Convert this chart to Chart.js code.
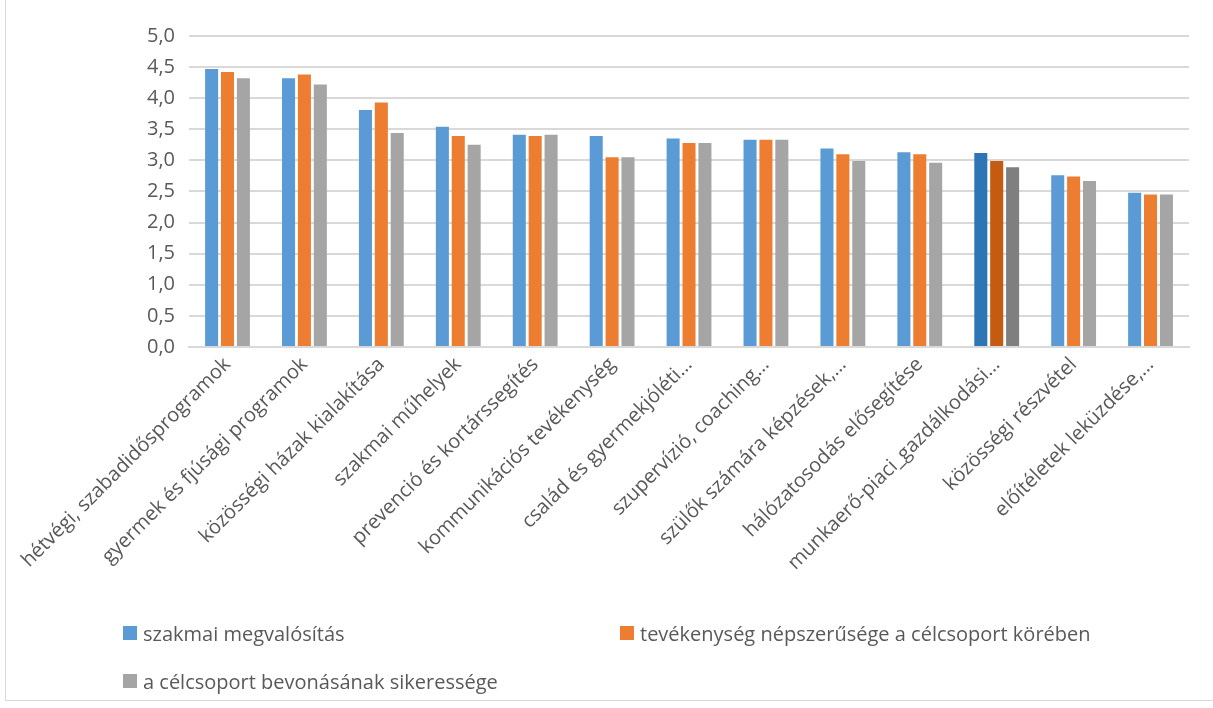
<!DOCTYPE html>
<html><head><meta charset="utf-8">
<script src="https://cdn.jsdelivr.net/npm/chart.js@4"></script>
<style>
html,body{margin:0;padding:0;background:#fff;}
#wrap{position:relative;width:1213px;height:708px;overflow:hidden;}
#frame{position:absolute;left:5px;top:-2px;width:1220px;height:703px;border:1px solid #d9d9d9;box-sizing:border-box;}
canvas{position:absolute;left:0;top:0;}
.lg{position:absolute;font-family:"Open Sans",sans-serif;font-size:20px;color:#595959;display:flex;align-items:center;white-space:nowrap;height:28px;}
.lg span.b{display:inline-block;width:14px;height:14px;margin-right:6px;}
</style></head>
<body><div id="wrap"><div id="frame"></div><canvas id="c" width="1213" height="708"></canvas></div>
<script>
const categories = ["hétvégi, szabadidősprogramok","gyermek és fjúsági programok","közösségi házak kialakítása","szakmai műhelyek","prevenció és kortárssegítés","kommunikációs tevékenység","család és gyermekjóléti…","szupervízió, coaching…","szülők számára képzések,…","hálózatosodás elősegítése","munkaerő-piaci_gazdálkodási…","közösségi részvétel","előítéletek leküzdése,…"];
const seriesNames = ["szakmai megvalósítás","tevékenység népszerűsége a célcsoport körében","a célcsoport bevonásának sikeressége"];
const szakmai = [4.47,4.32,3.81,3.54,3.41,3.39,3.35,3.33,3.19,3.13,3.12,2.76,2.48];
const nepszeruseg = [4.42,4.38,3.93,3.39,3.39,3.05,3.28,3.33,3.10,3.10,2.99,2.74,2.45];
const bevonas = [4.32,4.22,3.44,3.25,3.41,3.05,3.28,3.33,2.99,2.96,2.89,2.67,2.45];
const yTicks = [0,0.5,1,1.5,2,2.5,3,3.5,4,4.5,5];
const baseColors = ["#5b9bd5","#ed7d31","#a5a5a5"];
const highlightColors = ["#2e75b6","#c55a11","#7f7f7f"];
const highlightIndex = 10;

const values = [szakmai, nepszeruseg, bevonas];
const datasets = values.map((v,i)=>({
  label: seriesNames[i],
  data: v,
  backgroundColor: v.map((_,j)=> j===highlightIndex ? highlightColors[i] : baseColors[i]),
  borderWidth: 0,
  categoryPercentage: 0.62,
  barPercentage: 0.82
}));

const font = {family:"'Open Sans', sans-serif"};
new Chart(document.getElementById('c'), {
  type:'bar',
  data:{labels:categories, datasets},
  options:{
    responsive:false, animation:false,
    layout:{padding:{left:133,right:24,top:36,bottom:127}},
    plugins:{legend:{display:false}, tooltip:{enabled:false}},
    scales:{
      x:{
        grid:{display:false, drawTicks:false},
        border:{color:'#d9d9d9', width:2},
        ticks:{color:'#595959', font:{...font,size:20}, maxRotation:45, minRotation:45, autoSkip:false, padding:6}
      },
      y:{
        min:0, max:5,
        afterBuildTicks: s => { s.ticks = yTicks.map(v=>({value:v})); },
        grid:{color:'#d9d9d9', lineWidth:2, drawTicks:false},
        border:{display:false},
        ticks:{color:'#595959', font:{...font,size:20}, padding:14,
          callback: v => Number(v).toFixed(1).replace('.',',')}
      }
    }
  }
});

const wrap = document.getElementById('wrap');
const pos = [[123,619],[620,619],[123,667]];
seriesNames.forEach((n,i)=>{
  const d = document.createElement('div');
  d.className='lg';
  d.style.left = pos[i][0]+'px'; d.style.top = pos[i][1]+'px';
  d.innerHTML = '<span class="b" style="background:'+baseColors[i]+'"></span>';
  d.appendChild(document.createTextNode(n));
  wrap.appendChild(d);
});
</script></body></html>
